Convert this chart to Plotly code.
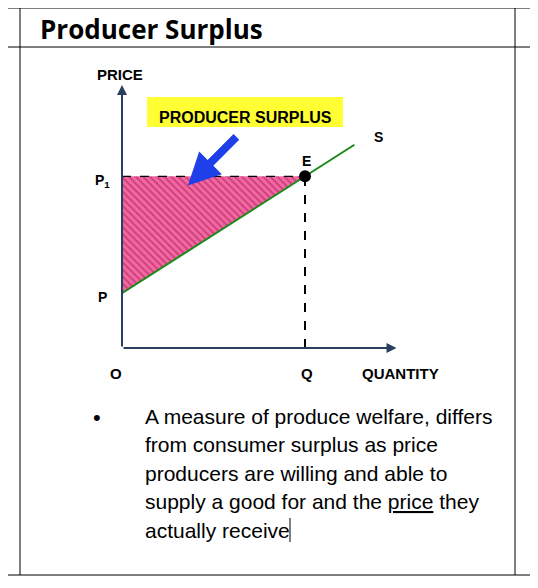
import plotly.graph_objects as go

# diagram values (data units)
p_low = 3.0
p1 = 9.4
q_eq = 10.0
supply_x = [0, 12.7]
supply_y = [3.0, 11.13]
surplus_x = [0, q_eq, 0, 0]
surplus_y = [p1, p1, p_low, p1]

body_lines = [
    "A measure of produce welfare, differs",
    "from consumer surplus as price",
    "producers are willing and able to",
    "supply a good for and the <u>price</u> they",
    "actually receive",
]

W, H = 538, 588
OFF = 8  # page body margin
def px(x): return (x - OFF) / W
def py(y): return 1 - (y - OFF) / H

fig = go.Figure()

# hatched surplus triangle
fig.add_trace(go.Scatter(x=surplus_x, y=surplus_y, mode="lines", fill="toself",
                         line=dict(width=0), fillcolor="#e8488a",
                         fillpattern=dict(shape="\\", fgcolor="#b01060", bgcolor="#f06aa0",
                                          size=5, solidity=0.4),
                         showlegend=False, hoverinfo="skip"))
# P1 dashed line and Q dashed line
fig.add_trace(go.Scatter(x=[0, q_eq], y=[p1, p1], mode="lines",
                         line=dict(color="black", width=1.2, dash="dash"), showlegend=False))
fig.add_trace(go.Scatter(x=[q_eq, q_eq], y=[0, p1], mode="lines",
                         line=dict(color="black", width=2, dash="dash"), showlegend=False))
# supply curve
fig.add_trace(go.Scatter(x=supply_x, y=supply_y, mode="lines",
                         line=dict(color="#1a8a1a", width=2), showlegend=False))
# equilibrium point
fig.add_trace(go.Scatter(x=[q_eq], y=[p1], mode="markers",
                         marker=dict(color="black", size=12), showlegend=False))

fig.update_xaxes(range=[0, 15], domain=[px(122), px(122 + 15 * 18.3)], visible=False)
fig.update_yaxes(range=[0, 14.4], domain=[py(348), py(85)], visible=False)

shapes = []
def line(x0, y0, x1, y1, w=1):
    shapes.append(dict(type="line", xref="paper", yref="paper", x0=px(x0), y0=py(y0),
                       x1=px(x1), y1=py(y1), line=dict(color="black", width=w)))
line(0, 8, W, 8)
line(0, 47, W, 47)
line(0, 575, W, 575)
line(20, 8, 20, 575)
line(515, 8, 515, 575)
# yellow highlight behind label
shapes.append(dict(type="rect", xref="paper", yref="paper", x0=px(147), x1=px(343),
                   y0=py(127), y1=py(97), fillcolor="#ffff33", line=dict(width=0), layer="below"))
# text cursor
line(290, 518, 290, 542, 1)

ann = []
def txt(x, y, s, size=14, bold=True, anchor="center", font="Liberation Sans", color="black"):
    ann.append(dict(x=px(x), y=py(y), xref="paper", yref="paper", text=f"<b>{s}</b>" if bold else s,
                    showarrow=False, xanchor=anchor, yanchor="middle",
                    font=dict(size=size, family=font, color=color)))

# axes arrows
ann.append(dict(x=0, y=14.4, ax=0, ay=0, axref="x", ayref="y", xref="x", yref="y", text="",
                arrowhead=2, arrowsize=1, arrowwidth=2, showarrow=True))
ann.append(dict(x=15, y=0, ax=0, ay=0, axref="x", ayref="y", xref="x", yref="y", text="",
                arrowhead=2, arrowsize=1, arrowwidth=2, showarrow=True))
# blue arrow
ann.append(dict(x=3.6, y=8.9, ax=50, ay=-50, xref="x", yref="y", text="",
                arrowhead=2, arrowsize=0.8, arrowwidth=8, arrowcolor="#1f3fe8", showarrow=True))

txt(38, 29, "Producer Surplus", size=26, anchor="left", font="Open Sans")
txt(528, 29, "C", size=26, anchor="left", font="Open Sans")
txt(120, 74, "PRICE", size=15)
txt(245, 117, "PRODUCER SURPLUS", size=16)
txt(378, 137, "S", size=14)
txt(306, 161, "E", size=14)
txt(102, 181, "P<sub>1</sub>", size=14)
txt(102, 297, "P", size=14)
txt(116, 373, "O", size=15)
txt(307, 373, "Q", size=15)
txt(400, 373, "QUANTITY", size=15)
txt(97, 417, "•", size=22, bold=False)
for i, s in enumerate(body_lines):
    txt(143, 416 + i * 28.5, s, size=21, bold=False, anchor="left")

fig.update_layout(width=W, height=H, margin=dict(l=0, r=0, t=0, b=0),
                  paper_bgcolor="white", plot_bgcolor="rgba(0,0,0,0)",
                  shapes=shapes, annotations=ann, showlegend=False)

fig.write_html("out.html")
